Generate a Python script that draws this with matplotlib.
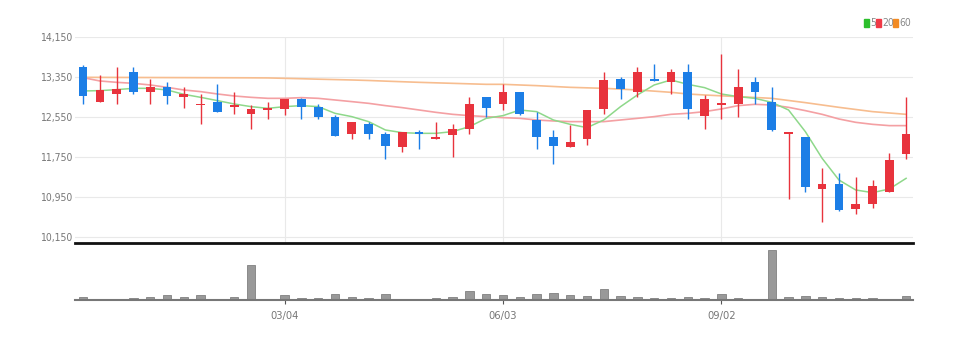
import matplotlib.pyplot as plt
from matplotlib import font_manager
from matplotlib.patches import Rectangle

# weekly candles, 2018-12-10 .. 2019-11-18
opens = [13557, 12857, 13003, 13443, 13050, 13157, 12957, 12783, 12850, 12750,
         12610, 12697, 12710, 12903, 12757, 12557, 12210, 12403, 12203, 11950,
         12243, 12110, 12190, 12310, 12957, 12803, 13043, 12490, 12157, 11950,
         12110, 12703, 13310, 13057, 13303, 13257, 13443, 12570, 12783, 12810,
         13243, 12857, 12210, 12157, 11103, 11203, 10703, 10803, 11057, 11810]
highs = [13590, 13390, 13557, 13557, 13310, 13257, 13157, 13003, 13203, 13043,
         12790, 12857, 12903, 12923, 12803, 12590, 12457, 12457, 12257, 12243,
         12290, 12443, 12403, 12957, 12957, 13203, 13043, 12643, 12290, 12390,
         12690, 13443, 13357, 13557, 13603, 13510, 13603, 12990, 13803, 13510,
         13357, 13157, 12237, 12157, 11537, 11423, 11357, 11290, 11823, 12957]
lows = [12810, 12850, 12803, 13003, 12803, 12810, 12723, 12410, 12643, 12603,
        12310, 12503, 12590, 12503, 12503, 12170, 12103, 12103, 11703, 11857,
        11903, 12110, 11757, 12210, 12557, 12690, 12590, 11903, 11603, 11950,
        11990, 12603, 12910, 12957, 13270, 13003, 12503, 12310, 12510, 12557,
        12803, 12270, 10903, 11057, 10457, 10670, 10603, 10723, 11057, 11703]
closes = [12970, 13090, 13110, 13057, 13143, 12963, 13003, 12817, 12657, 12777,
          12710, 12717, 12903, 12743, 12557, 12170, 12457, 12210, 11970, 12243,
          12203, 12150, 12310, 12803, 12723, 13043, 12610, 12157, 11970, 12043,
          12690, 13290, 13110, 13443, 13270, 13443, 12703, 12903, 12823, 13157,
          13057, 12290, 12230, 11157, 11203, 10690, 10803, 11177, 11690, 12203]
volumes = [33, 13, 13, 20, 30, 47, 33, 47, 13, 33,
           350, 13, 50, 20, 20, 60, 30, 20, 60, 13,
           7, 17, 30, 93, 63, 50, 30, 60, 67, 50,
           43, 113, 43, 30, 20, 20, 30, 17, 63, 20,
           7, 500, 30, 37, 30, 20, 20, 20, 13, 37]
ma5 = [13070, 13077, 13097, 13123, 13123, 13090, 13003, 12943, 12877, 12810,
       12757, 12723, 12757, 12777, 12757, 12623, 12557, 12457, 12290, 12237,
       12223, 12223, 12257, 12357, 12523, 12577, 12690, 12657, 12490, 12403,
       12337, 12490, 12757, 12990, 13190, 13290, 13203, 13137, 13010, 12957,
       12923, 12843, 12690, 12257, 11723, 11290, 11090, 11037, 11110, 11323]
ma20 = [13337, 13270, 13243, 13223, 13190, 13143, 13090, 13057, 13010, 12970,
        12943, 12923, 12923, 12937, 12923, 12890, 12857, 12823, 12777, 12737,
        12690, 12643, 12603, 12577, 12557, 12537, 12523, 12490, 12470, 12457,
        12457, 12457, 12490, 12523, 12557, 12603, 12623, 12657, 12710, 12777,
        12803, 12790, 12743, 12677, 12603, 12510, 12443, 12403, 12377, 12377]
ma60 = [13343, 13342, 13341, 13340, 13339, 13338, 13337, 13336, 13335, 13334,
        13333, 13331, 13323, 13315, 13306, 13298, 13290, 13280, 13267, 13255,
        13243, 13233, 13223, 13213, 13203, 13203, 13190, 13177, 13160, 13143,
        13133, 13123, 13107, 13090, 13067, 13043, 13010, 12990, 12973, 12957,
        12940, 12923, 12880, 12837, 12790, 12743, 12700, 12657, 12630, 12603]
tick_idx = [12, 25, 38]
tick_labels = ['03/04', '06/03', '09/02']
price_ticks = [10150, 10950, 11750, 12550, 13350, 14150]

avail = {f.name for f in font_manager.fontManager.ttflist}
if 'Liberation Sans Narrow' in avail:
    plt.rcParams['font.family'] = ['Liberation Sans Narrow', 'DejaVu Sans']
else:
    plt.rcParams['font.family'] = ['DejaVu Sans']
    plt.rcParams['font.stretch'] = 'condensed'

up_c = '#e8333d'
dn_c = '#1c7ee6'
lab_c = '#777777'

fig = plt.figure(figsize=(9.63, 3.38), dpi=100)
ax = fig.add_axes([0.0779, 0.2811, 0.870, 0.6095])
axv = fig.add_axes([0.0779, 0.1124, 0.870, 0.1627])

x = list(range(len(opens)))
cols = [up_c if c >= o else dn_c for o, c in zip(opens, closes)]
ax.vlines(x, lows, highs, colors=cols, linewidth=1.0, zorder=3)
bot = [min(o, c) for o, c in zip(opens, closes)]
hgt = [max(abs(c - o), 30) for o, c in zip(opens, closes)]
ax.bar(x, hgt, bottom=bot, width=0.52, color=cols, zorder=4)

ax.plot(x, ma60, color='#f7bd8f', linewidth=1.2, zorder=2)
ax.plot(x, ma20, color='#f4a0a3', linewidth=1.2, zorder=2)
ax.plot(x, ma5, color='#8ed88a', linewidth=1.1, zorder=2)

ax.set_xlim(-0.48, 49.4)
ax.set_ylim(10030, 14150)
ax.set_yticks(price_ticks)
ax.set_yticklabels([f'{v:,}' for v in price_ticks])
ax.set_xticks(tick_idx)
ax.tick_params(axis='x', length=0, labelbottom=False)
ax.tick_params(axis='y', length=0, labelsize=7.5, labelcolor=lab_c, pad=2)
ax.grid(True, color='#e9e9e9', linewidth=0.8, zorder=0)
for s in ['top', 'right', 'left']:
    ax.spines[s].set_visible(False)
ax.spines['bottom'].set_color('#111111')
ax.spines['bottom'].set_linewidth(2)

# legend, placed by pixel (square patch + label)
W, H = 963, 338
leg = [('5', '#2cbf2c', 864), ('20', '#f03a46', 876), ('60', '#f28a22', 893)]
for txt, c, px in leg:
    fig.patches.append(Rectangle((px / W, (H - 27) / H), 5 / W, 8 / H,
                                 transform=fig.transFigure, color=c))
    fig.text((px + 6) / W, (H - 23) / H, txt, color='#888888', fontsize=7.5,
             ha='left', va='center')

axv.bar(x, volumes, width=0.5, color='#999999', edgecolor='#808080', linewidth=0.6)
axv.set_xlim(-0.48, 49.4)
axv.set_ylim(0, 550)
axv.set_yticks([])
axv.set_xticks(tick_idx)
axv.set_xticklabels(tick_labels)
axv.tick_params(axis='x', length=3, color='#555555', labelsize=8, labelcolor=lab_c, pad=5)
for s in ['top', 'right', 'left']:
    axv.spines[s].set_visible(False)
axv.spines['bottom'].set_color('#777777')
axv.spines['bottom'].set_linewidth(1.5)

fig.savefig('out.png', dpi=100)
